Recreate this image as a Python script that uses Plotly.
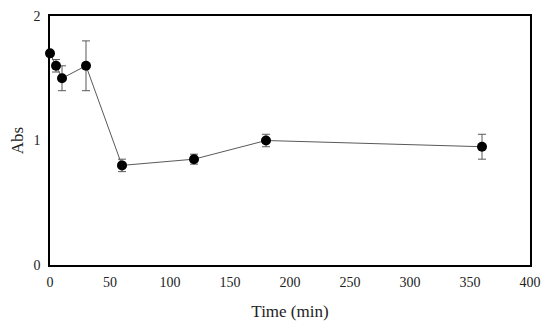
import plotly.graph_objects as go

time_min = [0, 5, 10, 30, 60, 120, 180, 360]
abs_values = [1.70, 1.60, 1.50, 1.60, 0.80, 0.85, 1.00, 0.95]
abs_err = [0.0, 0.05, 0.10, 0.20, 0.05, 0.04, 0.05, 0.10]

x_ticks = [0, 50, 100, 150, 200, 250, 300, 350, 400]
y_ticks = [0, 1, 2]

fig = go.Figure()
fig.add_trace(go.Scatter(
    x=time_min, y=abs_values,
    mode="lines+markers",
    line=dict(color="#595959", width=1),
    marker=dict(color="black", size=10),
    error_y=dict(type="data", array=abs_err, visible=True, color="#595959", thickness=1, width=4),
    showlegend=False,
    cliponaxis=False,
))

font = dict(family="Liberation Serif, DejaVu Serif, serif", size=14, color="#222222")
fig.update_layout(
    width=542, height=322,
    margin=dict(l=42, r=20, t=8, b=65, autoexpand=False),
    paper_bgcolor="white", plot_bgcolor="white",
    font=font,
    xaxis=dict(range=[0, 400], tickvals=x_ticks, showgrid=False, zeroline=False,
               showline=True, linecolor="black", linewidth=1.5, mirror=True,
               ticks="", ticklabelstandoff=3, automargin=False,
               title=dict(text="Time (min)", standoff=17)),
    yaxis=dict(range=[0, 2], tickvals=y_ticks, showgrid=False, zeroline=False,
               showline=True, linecolor="black", linewidth=1.5, mirror=True,
               ticks="", ticklabelstandoff=5, automargin=False,
               title=dict(text="Abs", standoff=10)),
)
fig.write_html("out.html")
